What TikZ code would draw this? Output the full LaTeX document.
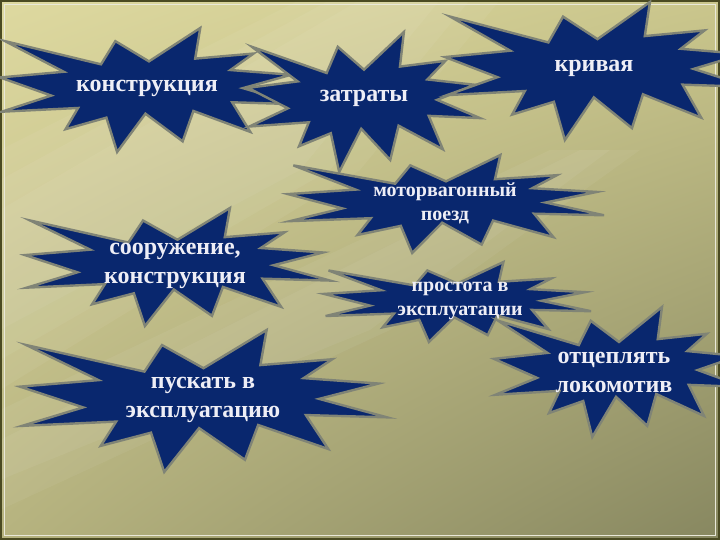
\documentclass[tikz,border=0pt]{standalone}
\usepackage{fontspec}
\setmainfont{Liberation Serif}
\usetikzlibrary{shadings}
\definecolor{bgul}{HTML}{DED9A0}
\definecolor{bgur}{HTML}{CAC68C}
\definecolor{bgll}{HTML}{B6B37F}
\definecolor{bglr}{HTML}{878760}
\definecolor{navyfill}{RGB}{9,39,110}
\definecolor{burstedge}{RGB}{128,132,118}
\definecolor{labeltext}{HTML}{EEEEF6}
\definecolor{framedark}{HTML}{4A4A22}
\tikzset{
  burst/.style={fill=navyfill, draw=burstedge, line width=2.4pt},
  burstlabel/.style={text=labeltext, font=\bfseries\fontsize{24}{29}\selectfont, align=center, inner sep=0pt},
  smalllabel/.style={burstlabel, font=\bfseries\fontsize{20}{24}\selectfont},
  glow/.style={white, opacity=0.05}
}
% explosion outline in a box: left, top, width, height
\newcommand{\burstshape}[4]{%
  \begin{scope}[shift={(#1,#2)}, xscale=#3, yscale=#4]
    \draw[burst] (0.500,0.269) -- (0.672,0) -- (0.655,0.247) -- (0.851,0.206)
      -- (0.773,0.339) -- (0.977,0.377) -- (0.815,0.485) -- (1,0.615)
      -- (0.779,0.599) -- (0.840,0.838) -- (0.649,0.669) -- (0.613,0.914)
      -- (0.488,0.691) -- (0.393,1) -- (0.357,0.723) -- (0.220,0.816)
      -- (0.262,0.645) -- (0.006,0.675) -- (0.172,0.545) -- (0,0.399)
      -- (0.214,0.353) -- (0.017,0.106) -- (0.339,0.293) -- (0.387,0.106) -- cycle;
  \end{scope}}
\begin{document}
\begin{tikzpicture}[x=1pt,y=-1pt]
\clip (0,0) rectangle (720,540);
% background
\shade[upper left=bgul, upper right=bgur, lower left=bgll, lower right=bglr] (0,0) rectangle (720,540);
\fill[glow] (0,150) -- (0,390) -- (360,170) -- (500,0) -- (300,0) -- cycle;
\fill[glow] (0,180) -- (0,360) -- (330,170) -- (470,0) -- (330,0) -- cycle;
\fill[glow] (0,210) -- (0,330) -- (300,170) -- (440,0) -- (360,0) -- cycle;
\fill[glow] (0,410) -- (0,510) -- (390,330) -- (640,150) -- (550,150) -- cycle;
\fill[glow] (0,440) -- (0,480) -- (370,330) -- (610,150) -- (580,150) -- cycle;
\draw[framedark, line width=4pt] (0,0) rectangle (720,540);
\draw[white!70!bgll, line width=0.8pt] (4.5,4.5) rectangle (715.5,535.5);
% bursts
\burstshape{0}{28}{298}{124}
\burstshape{248}{32}{232}{140}
\burstshape{445}{2}{305}{138}
\burstshape{288}{155}{316}{98}
\burstshape{25}{208}{305}{118}
\burstshape{324}{262}{267}{80}
\burstshape{20}{330}{367}{142}
\burstshape{494}{307}{250}{130}
% labels
\node[burstlabel] (konstr) at (147,88) {конструкция};
\node[burstlabel] (zatraty) at (364,98) {затраты};
\node[burstlabel] (krivaya) at (594,68) {кривая};
\node[smalllabel] (poezd) at (445,203) {моторвагонный\\поезд};
\node[burstlabel] (sooruzh) at (175,266) {сооружение,\\конструкция};
\node[smalllabel] (prostota) at (460,301) {простота в\\эксплуатации};
\node[burstlabel] (puskat) at (203,400) {пускать в\\эксплуатацию};
\node[burstlabel] (otcep) at (614,372) {отцеплять\\локомотив};
\end{tikzpicture}
\end{document}
